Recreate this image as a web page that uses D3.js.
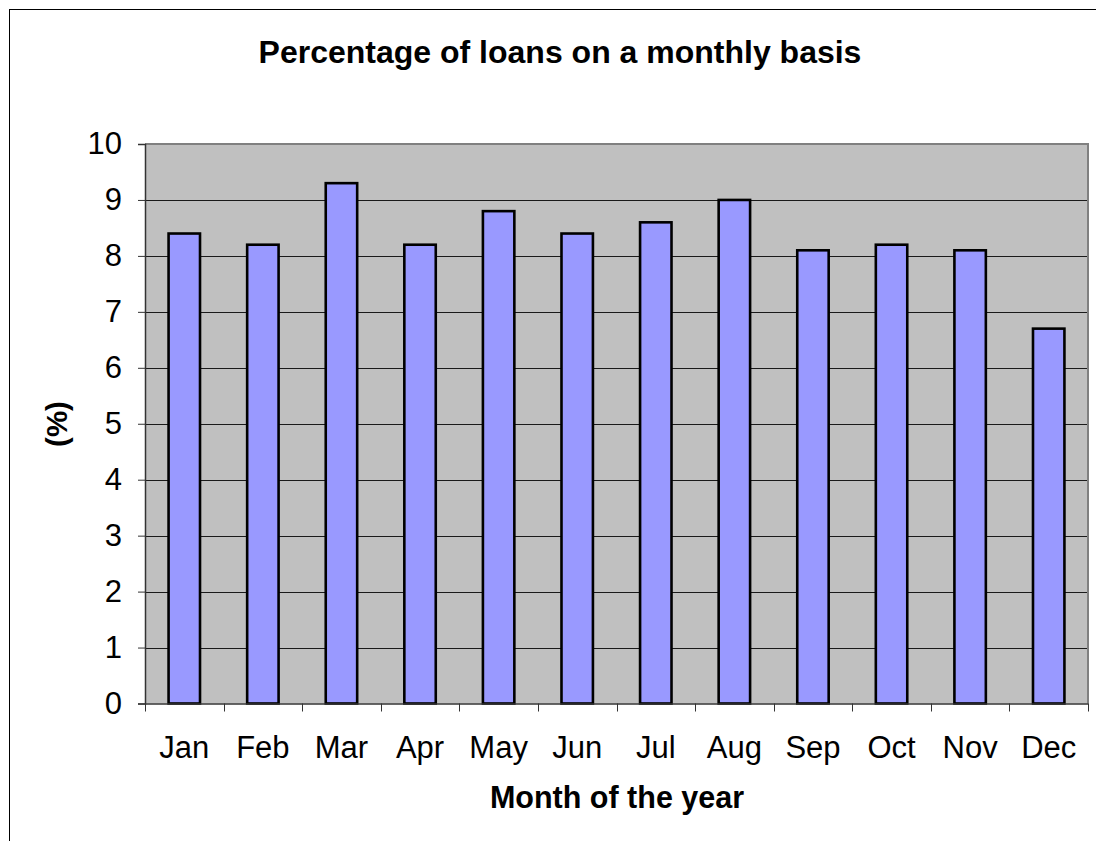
<!DOCTYPE html>
<html>
<head>
<meta charset="utf-8">
<script src="https://cdn.jsdelivr.net/npm/d3@7"></script>
<style>
  html, body { margin: 0; padding: 0; background: #fff; }
  svg { display: block; font-family: "Liberation Sans", Arial, sans-serif; }
</style>
</head>
<body>
<svg id="chart" width="1096" height="841"></svg>
<script>
const months = ["Jan","Feb","Mar","Apr","May","Jun","Jul","Aug","Sep","Oct","Nov","Dec"];
const loanPct = [8.4, 8.2, 9.3, 8.2, 8.8, 8.4, 8.6, 9.0, 8.1, 8.2, 8.1, 6.7];
const yTicks = [0,1,2,3,4,5,6,7,8,9,10];
const titleText = "Percentage of loans on a monthly basis";
const xTitle = "Month of the year";
const yTitle = "(%)";

const svg = d3.select("#chart");
const plot = { left: 145, top: 144, right: 1088, bottom: 703.5 };

// outer frame (extends past viewport on right and bottom)
svg.append("rect")
  .attr("x", 9.5).attr("y", 9.5)
  .attr("width", 1200).attr("height", 1000)
  .attr("fill", "none").attr("stroke", "#000").attr("stroke-width", 1);

const x = d3.scaleBand().domain(months).range([plot.left, plot.right]).paddingInner(0.6).paddingOuter(0.3);
const xPos = d3.scaleBand().domain(months).range([plot.left, plot.right]);
const y = d3.scaleLinear().domain([0, 10]).range([plot.bottom, plot.top]);

// plot background
svg.append("rect")
  .attr("x", plot.left).attr("y", plot.top)
  .attr("width", plot.right - plot.left).attr("height", plot.bottom - plot.top)
  .attr("fill", "#C0C0C0");

// gridlines
svg.append("g").selectAll("line").data(yTicks.filter(d => d > 0 && d < 10)).join("line")
  .attr("x1", plot.left).attr("x2", plot.right)
  .attr("y1", d => Math.round(y(d)) + 0.5).attr("y2", d => Math.round(y(d)) + 0.5)
  .attr("stroke", "#1a1a1a").attr("stroke-width", 1);

// plot border top/right
svg.append("path")
  .attr("d", `M${plot.left},${plot.top} H${plot.right} V${plot.bottom}`)
  .attr("fill", "none").attr("stroke", "#808080").attr("stroke-width", 2);

// bars
svg.append("g").selectAll("rect").data(months).join("rect")
  .attr("x", (d) => x(d))
  .attr("width", x.bandwidth())
  .attr("y", (d, i) => y(loanPct[i]))
  .attr("height", (d, i) => y(0) - y(loanPct[i]))
  .attr("fill", "#9999FF")
  .attr("stroke", "#000").attr("stroke-width", 2.6);

// y axis
const yAxis = d3.axisLeft(y).tickValues(yTicks).tickSize(7).tickPadding(16).tickFormat(d3.format("d"));
const gy = svg.append("g").attr("transform", `translate(${plot.left},0)`).call(yAxis);
gy.select(".domain").attr("stroke", "#333").attr("stroke-width", 1.5);
gy.selectAll(".tick line").attr("stroke", "#333");
gy.selectAll(".tick text").attr("font-size", 31).attr("fill", "#000")
  .attr("font-family", "Liberation Sans, Arial, sans-serif");

// x axis
const xAxis = d3.axisBottom(xPos).tickSize(0).tickPadding(0);
const gx = svg.append("g").attr("transform", `translate(0,${plot.bottom})`).call(xAxis);
gx.select(".domain").attr("stroke", "#333").attr("stroke-width", 1.5);
gx.selectAll(".tick text").attr("font-size", 31).attr("fill", "#000")
  .attr("dy", null).attr("y", 54.5)
  .attr("font-family", "Liberation Sans, Arial, sans-serif");
// tick marks at category boundaries
const bounds = months.map(m => xPos(m)).concat([plot.right]);
gx.append("g").selectAll("line").data(bounds).join("line")
  .attr("x1", d => Math.round(d) + 0.5).attr("x2", d => Math.round(d) + 0.5)
  .attr("y1", 0).attr("y2", 8).attr("stroke", "#333");

// titles
svg.append("text").attr("x", 560).attr("y", 63).attr("text-anchor", "middle")
  .attr("font-size", 32).attr("font-weight", "bold").text(titleText);
svg.append("text").attr("x", 617).attr("y", 808).attr("text-anchor", "middle")
  .attr("font-size", 30.5).attr("font-weight", "bold").text(xTitle);
svg.append("text").attr("transform", "translate(67,424) rotate(-90)").attr("text-anchor", "middle")
  .attr("font-size", 29.5).attr("font-weight", "bold").text(yTitle);
</script>
</body>
</html>
